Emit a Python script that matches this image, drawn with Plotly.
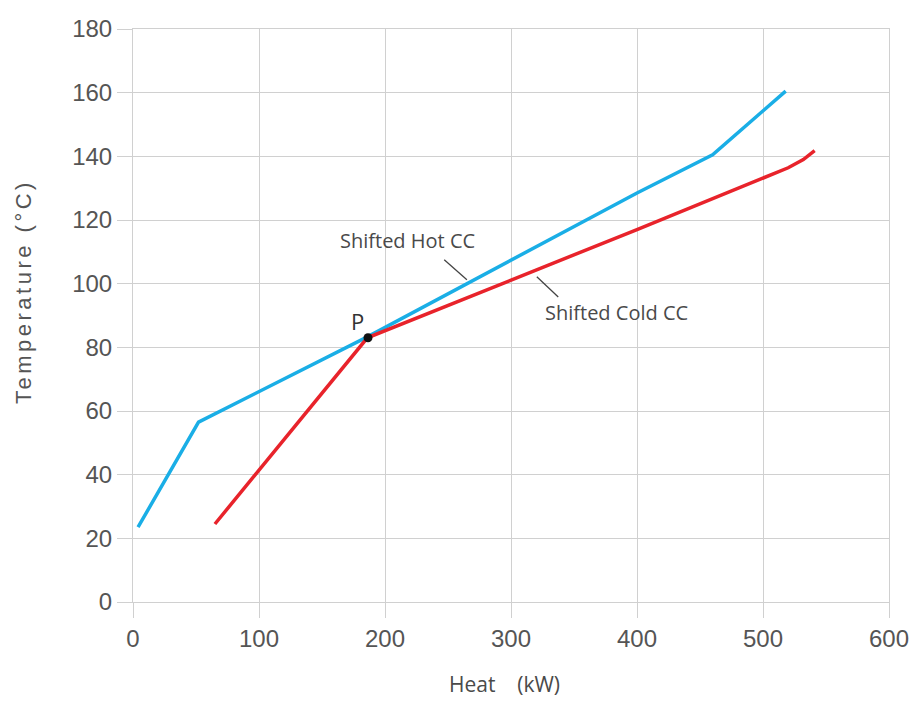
import plotly.graph_objects as go

# Shifted hot composite curve (heat kW, temperature °C)
hot_heat = [4, 52, 186, 400, 460, 518]
hot_temp = [23.5, 56.5, 83.3, 128.5, 140.5, 160.5]

# Shifted cold composite curve
cold_heat = [65, 186, 400, 500, 520, 532, 541]
cold_temp = [24.5, 83.0, 117.0, 133.2, 136.4, 139.0, 141.8]

# Pinch point
pinch_heat = [186.5]
pinch_temp = [83.0]

x_ticks = [0, 100, 200, 300, 400, 500, 600]
y_ticks = [0, 20, 40, 60, 80, 100, 120, 140, 160, 180]

BLUE = "#1AAEE6"
RED = "#E8232B"
GRID = "#D0D0D0"
TICKFONT = dict(family="Liberation Sans, Arial, sans-serif", size=24, color="#555555")
LABELFONT = dict(family="Open Sans, sans-serif", size=20, color="#4a4a4a")

fig = go.Figure()
fig.add_trace(go.Scatter(x=hot_heat, y=hot_temp, mode="lines", name="Shifted Hot CC",
                         line=dict(color=BLUE, width=3.5)))
fig.add_trace(go.Scatter(x=cold_heat, y=cold_temp, mode="lines", name="Shifted Cold CC",
                         line=dict(color=RED, width=3.5)))
fig.add_trace(go.Scatter(x=pinch_heat, y=pinch_temp, mode="markers", name="P",
                         marker=dict(color="#111111", size=9)))

# leader lines
fig.add_shape(type="line", x0=247, y0=107.5, x1=265, y1=101.2,
              line=dict(color="#444444", width=1.3))
fig.add_shape(type="line", x0=320.5, y0=102.2, x1=337.5, y1=95.8,
              line=dict(color="#444444", width=1.3))

fig.add_annotation(x=218, y=113.7, text="Shifted Hot CC", showarrow=False, font=LABELFONT)
fig.add_annotation(x=384, y=91.1, text="Shifted Cold CC", showarrow=False, font=LABELFONT)
fig.add_annotation(x=178.5, y=88.3, text="P", showarrow=False,
                   font=dict(family="Open Sans, sans-serif", size=22, color="#333333"))

# axis titles
fig.add_annotation(xref="paper", yref="paper", x=0.492, y=0, yshift=-82,
                   xanchor="center", yanchor="middle", showarrow=False,
                   text="Heat    (kW)",
                   font=dict(family="Open Sans, sans-serif", size=21, color="#4a4a4a"))
fig.add_annotation(xref="paper", yref="paper", x=0, xshift=-110, y=0.541,
                   xanchor="center", yanchor="middle", showarrow=False, textangle=-90,
                   text='<span style="letter-spacing:3.5px">Temperature (°C)</span>',
                   font=dict(family="Liberation Sans, Arial, sans-serif", size=22, color="#555555"))

fig.update_layout(
    width=910, height=694,
    margin=dict(l=125, r=29, t=21, b=100),
    paper_bgcolor="white", plot_bgcolor="white",
    showlegend=False,
)
fig.update_xaxes(
    range=[0, 600], tickvals=x_ticks, ticktext=[str(v) for v in x_ticks],
    showgrid=True, gridcolor=GRID, gridwidth=1, zeroline=False,
    showline=True, linecolor=GRID, linewidth=1, mirror=True,
    ticks="outside", ticklen=15, tickcolor=GRID, tickwidth=1,
    tickfont=TICKFONT, automargin=False,
)
fig.update_yaxes(
    range=[0, 180], tickvals=y_ticks, ticktext=[str(v) for v in y_ticks],
    showgrid=True, gridcolor=GRID, gridwidth=1, zeroline=False,
    showline=True, linecolor=GRID, linewidth=1, mirror=True,
    ticks="outside", ticklen=15, tickcolor=GRID, tickwidth=1,
    tickfont=TICKFONT, automargin=False,
)

fig.write_html("out.html")
